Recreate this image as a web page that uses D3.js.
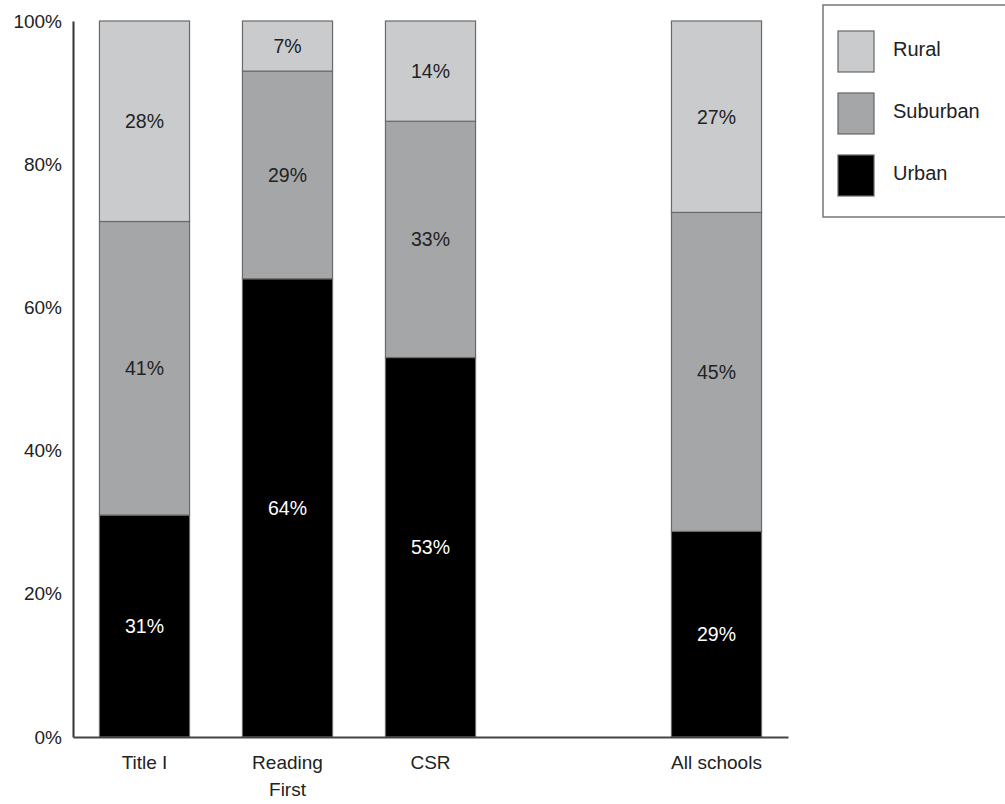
<!DOCTYPE html>
<html><head><meta charset="utf-8">
<script src="https://cdn.jsdelivr.net/npm/d3@7"></script>
<style>body{margin:0;background:#fff}svg{display:block}text{font-family:"Liberation Sans",Arial,sans-serif}</style>
</head><body><svg id="c" width="1005" height="804"></svg>
<script>
const categories = ["Title I", "Reading First", "CSR", "", "All schools"];
const seriesNames = ["Urban", "Suburban", "Rural"];
const urban    = [31, 64, 53, null, 29];
const suburban = [41, 29, 33, null, 45];
const rural    = [28, 7, 14, null, 27];
const yTicks = [0, 0.2, 0.4, 0.6, 0.8, 1.0];
const colors = {Urban: "#000000", Suburban: "#a4a6a8", Rural: "#c9cbcd"};
const legendOrder = ["Rural", "Suburban", "Urban"];

const svg = d3.select("#c");
const rows = categories.map((c, i) => ({cat: c, Urban: urban[i] || 0, Suburban: suburban[i] || 0, Rural: rural[i] || 0, empty: urban[i] == null}));
const x = d3.scaleBand().domain(categories).range([73, 788]).paddingInner(0.37).paddingOuter(0.185);
const y = d3.scaleLinear().domain([0, 1]).range([737, 21]);
const stack = d3.stack().keys(seriesNames).offset(d3.stackOffsetExpand);
const layers = stack(rows.filter(r => !r.empty));

const g = svg.append("g");
layers.forEach(layer => {
  const key = layer.key;
  const grp = g.append("g");
  grp.selectAll("rect").data(layer).join("rect")
    .attr("x", d => x(d.data.cat))
    .attr("width", x.bandwidth())
    .attr("y", d => y(d[1]))
    .attr("height", d => y(d[0]) - y(d[1]))
    .attr("fill", colors[key])
    .attr("stroke", "#6a6a6a").attr("stroke-width", 1.2);
  grp.selectAll("text").data(layer).join("text")
    .attr("x", d => x(d.data.cat) + x.bandwidth() / 2)
    .attr("y", d => (y(d[0]) + y(d[1])) / 2)
    .attr("dy", "0.35em")
    .attr("text-anchor", "middle")
    .attr("font-size", 19.5)
    .attr("fill", key === "Urban" ? "#ffffff" : "#222")
    .text(d => d.data[key] + "%");
});

// y axis
const yAxis = d3.axisLeft(y).tickValues(yTicks).tickFormat(d3.format(".0%")).tickSize(0).tickPadding(11);
const ya = svg.append("g").attr("transform", "translate(73,0)").call(yAxis);
ya.select(".domain").attr("stroke", "#333").attr("stroke-width", 2);
ya.selectAll("text").attr("font-size", 19).attr("fill", "#222").attr("font-family", "Liberation Sans, Arial, sans-serif");

// x axis
const xAxis = d3.axisBottom(x).tickSize(0).tickPadding(0).tickFormat(() => "");
const xa = svg.append("g").attr("transform", "translate(0,737)").call(xAxis);
xa.select(".domain").attr("stroke", "#444").attr("stroke-width", 2);
xa.selectAll(".tick").each(function(d) {
  const words = d === "Reading First" ? ["Reading", "First"] : [d];
  const t = d3.select(this).append("text").attr("fill", "#222").attr("font-size", 19)
    .attr("text-anchor", "middle").attr("font-family", "Liberation Sans, Arial, sans-serif");
  words.forEach((w, i) => t.append("tspan").attr("x", 0).attr("y", 32 + i * 27).text(w));
});

// legend
const lg = svg.append("g");
lg.append("rect").attr("x", 823).attr("y", 5).attr("width", 190).attr("height", 212)
  .attr("fill", "#fff").attr("stroke", "#777").attr("stroke-width", 1.5);
legendOrder.forEach((k, i) => {
  const yy = 31 + i * 62;
  lg.append("rect").attr("x", 838).attr("y", yy).attr("width", 36).attr("height", 41)
    .attr("fill", colors[k]).attr("stroke", "#666").attr("stroke-width", 1.2);
  lg.append("text").attr("x", 893).attr("y", yy + 18).attr("dy", "0.35em")
    .attr("font-size", 20).attr("fill", "#222").text(k);
});
</script></body></html>
